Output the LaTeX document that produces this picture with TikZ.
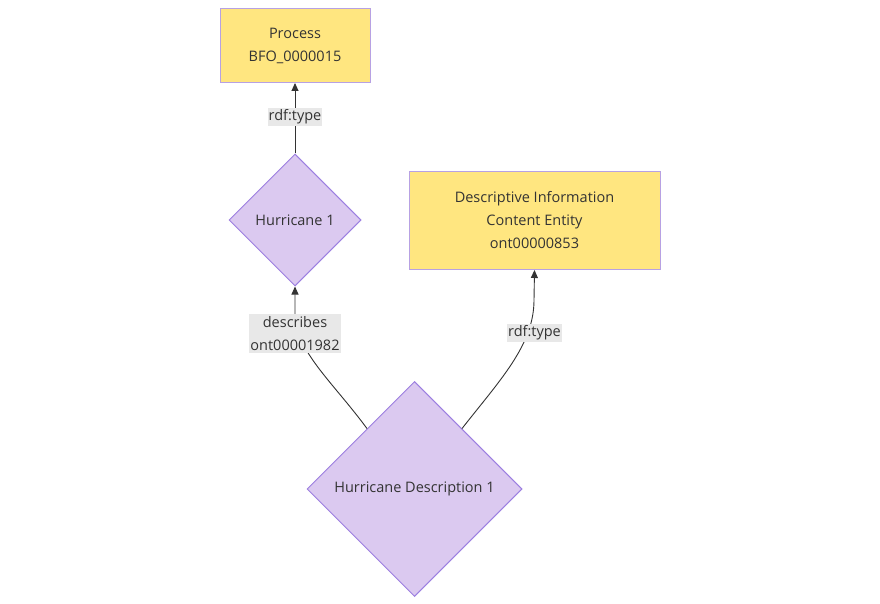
\documentclass[tikz,border=0pt]{standalone}
\usepackage{fontspec}
\setmainfont{Open Sans}
\usetikzlibrary{shapes.geometric,arrows.meta,calc}
\definecolor{txt}{HTML}{333333}
\definecolor{boxfill}{HTML}{FFE680}
\definecolor{boxline}{HTML}{B7A1E3}
\definecolor{dfill}{HTML}{DBC9F0}
\definecolor{dline}{HTML}{9C7FE0}
\definecolor{lblfill}{HTML}{E8E8E8}
\definecolor{edgec}{HTML}{333333}
\tikzset{
  classbox/.style={draw=boxline, fill=boxfill, line width=1pt, inner sep=0pt, align=center, text=txt, font=\fontsize{14.5}{23}\selectfont},
  inst/.style={diamond, aspect=1, draw=dline, fill=dfill, line width=1pt, inner sep=0pt, align=center, text=txt, font=\fontsize{14.5}{23}\selectfont},
  elabel/.style={fill=lblfill, inner xsep=1pt, inner ysep=2pt, align=center, text=txt, font=\fontsize{14.5}{23}\selectfont},
  conn/.style={draw=edgec, line width=0.9pt, -{Triangle[length=8pt,width=7pt]}},
}
\begin{document}
\begin{tikzpicture}[x=1pt,y=-1pt]
\useasboundingbox (0,0) rectangle (880,604);
\node[classbox, minimum width=150pt, minimum height=74pt] (proc) at (295,45.5) {Process\\BFO\_0000015};
\node[classbox, minimum width=251pt, minimum height=98pt] (dice) at (534.5,220.5) {Descriptive Information\\Content Entity\\ont00000853};
\node[inst, minimum width=132pt, minimum height=132pt] (h1) at (295,220) {Hurricane 1};
\node[inst, minimum width=215pt, minimum height=215pt] (hd1) at (414.5,489) {Hurricane Description 1};

\coordinate (s1) at ($(hd1.north)!0.44!(hd1.west)$);
\coordinate (s2) at ($(hd1.north)!0.44!(hd1.east)$);

\draw[conn] (h1.north) -- (proc.south);
\node[elabel] (l1) at (295,117) {rdf:type};

\draw[conn] (s1) .. controls (335,385) and (300,355) .. (295,320) -- (h1.south);
\node[elabel] (l2) at (295,333.5) {describes\\ont00001982};

\draw[conn] (s2) .. controls (500,380) and (534,345) .. (534,300) -- (dice.south);
\node[elabel] (l3) at (534.5,333) {rdf:type};
\end{tikzpicture}
\end{document}
